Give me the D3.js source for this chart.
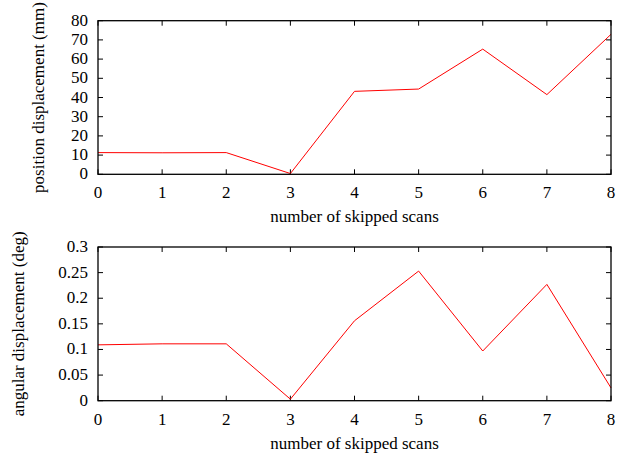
<!DOCTYPE html>
<html>
<head>
<meta charset="utf-8">
<script src="https://cdn.jsdelivr.net/npm/d3@7"></script>
<style>
body { margin: 0; background: #fff; }
</style>
</head>
<body>
<svg width="623" height="455"></svg>
<script>
var skipped = [0, 1, 2, 3, 4, 5, 6, 7, 8];
var positionMm = [11.3, 11.2, 11.3, 0.4, 43.2, 44.4, 65.2, 41.5, 72.9];
var angularDeg = [0.109, 0.111, 0.111, 0.003, 0.156, 0.253, 0.097, 0.227, 0.025];
var posTicks = [0, 10, 20, 30, 40, 50, 60, 70, 80];
var angTicks = [0, 0.05, 0.1, 0.15, 0.2, 0.25, 0.3];

var svg = d3.select("svg");
var left = 98, right = 611;

var x = d3.scaleLinear().domain([0, 8]).range([left, right]);

function label(sel) {
    return sel.style("font-family", "'Liberation Serif'")
        .style("font-size", "17px")
        .style("fill", "#000");
}

function panel(top, bottom, values, yMax, yTicks, yLabel, labelX) {
    var y = d3.scaleLinear().domain([0, yMax]).range([bottom, top]);
    var g = svg.append("g");

    // ticks on all four sides, pointing inward
    var tl = 5;
    g.selectAll(".xt").data(skipped).enter().append("path")
        .attr("d", function(d) { return "M" + x(d) + "," + bottom + "v" + (-tl) + "M" + x(d) + "," + top + "v" + tl; })
        .attr("stroke", "#000").attr("stroke-width", 1);
    g.selectAll(".yt").data(yTicks).enter().append("path")
        .attr("d", function(d) { return "M" + left + "," + y(d) + "h" + tl + "M" + right + "," + y(d) + "h" + (-tl); })
        .attr("stroke", "#000").attr("stroke-width", 1);

    label(g.selectAll(".xl").data(skipped).enter().append("text")
        .attr("x", function(d) { return x(d); })
        .attr("y", bottom + 24)
        .attr("text-anchor", "middle"))
        .text(function(d) { return d; });
    label(g.selectAll(".yl").data(yTicks).enter().append("text")
        .attr("x", left - 10)
        .attr("y", function(d) { return y(d) + 5; })
        .attr("text-anchor", "end"))
        .text(function(d) { return d; });

    var line = d3.line()
        .x(function(d, i) { return x(skipped[i]); })
        .y(function(d) { return y(d); });
    g.append("path").datum(values)
        .attr("d", line)
        .attr("fill", "none")
        .attr("stroke", "#ff0000")
        .attr("stroke-width", 1);

    g.append("rect")
        .attr("x", left).attr("y", top)
        .attr("width", right - left).attr("height", bottom - top)
        .attr("fill", "none").attr("stroke", "#000").attr("stroke-width", 1.3);

    label(g.append("text")
        .attr("x", (left + right) / 2)
        .attr("y", bottom + 48)
        .attr("text-anchor", "middle"))
        .text("number of skipped scans");

    label(g.append("text")
        .attr("transform", "translate(" + labelX + "," + ((top + bottom) / 2) + ") rotate(-90)")
        .attr("text-anchor", "middle"))
        .text(yLabel);
}

panel(20.7, 174.3, positionMm, 80, posTicks, "position displacement (mm)", 44);
panel(247, 400.7, angularDeg, 0.3, angTicks, "angular displacement (deg)", 24);
</script>
</body>
</html>
